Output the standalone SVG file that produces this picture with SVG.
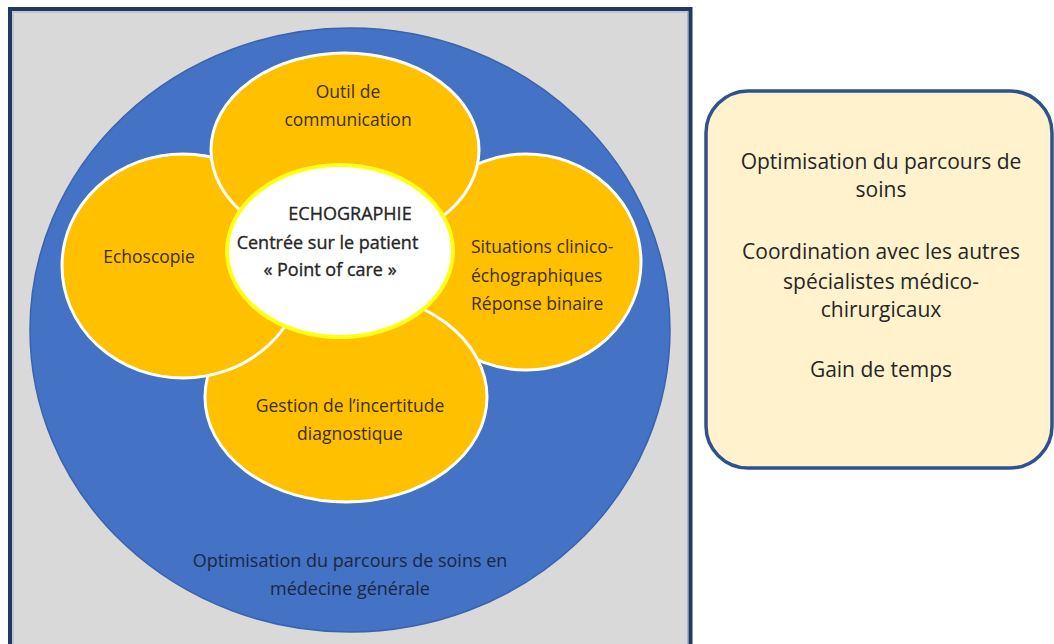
<svg xmlns="http://www.w3.org/2000/svg" width="1054" height="644" viewBox="0 0 1054 644">
<style>
.petal{fill:#ffc000;stroke:#ffffff;stroke-width:3}
.pt{font-family:"Open Sans","Liberation Sans",sans-serif;font-size:17.5px;fill:#3d2e00}
.ct{font-family:"Open Sans","Liberation Sans",sans-serif;font-size:18px;fill:#262626;text-anchor:middle;stroke:#262626;stroke-width:0.35}
.bt{font-family:"Open Sans","Liberation Sans",sans-serif;font-size:18px;fill:#1a2744;text-anchor:middle}
.rt{font-family:"Open Sans","Liberation Sans",sans-serif;font-size:21px;fill:#262626;text-anchor:middle}
.mid{text-anchor:middle}
</style>
<rect width="1054" height="644" fill="#ffffff"/>
<g id="frame">
<rect x="10" y="9" width="680.5" height="642" fill="#d9d9d9" stroke="#1f3864" stroke-width="4"/>
<rect x="13" y="12" width="674.5" height="636" fill="none" stroke="#aab4c8" stroke-width="1"/>
</g>
<g id="outer-circle">
<ellipse cx="350" cy="330" rx="320" ry="302" fill="#4472c4" stroke="#3a63ad" stroke-width="1.5"/>
<text class="bt" x="350" y="567">Optimisation du parcours de soins en</text>
<text class="bt" x="350" y="595">médecine générale</text>
</g>
<g id="petal-right">
<ellipse class="petal" cx="526" cy="262" rx="115" ry="108"/>
<text class="pt" x="471" y="253">Situations clinico-</text>
<text class="pt" x="471" y="281.5">échographiques</text>
<text class="pt" x="471" y="310">Réponse binaire</text>
</g>
<g id="petal-bottom">
<ellipse class="petal" cx="346" cy="397" rx="141" ry="105"/>
<text class="pt mid" x="350" y="412">Gestion de l’incertitude</text>
<text class="pt mid" x="350" y="440">diagnostique</text>
</g>
<g id="petal-left">
<ellipse class="petal" cx="183" cy="266" rx="121" ry="112"/>
<text class="pt mid" x="149" y="263">Echoscopie</text>
</g>
<g id="petal-top">
<ellipse class="petal" cx="345" cy="150" rx="134" ry="97"/>
<text class="pt mid" x="348" y="98">Outil de</text>
<text class="pt mid" x="348" y="126">communication</text>
</g>
<g id="center">
<ellipse cx="340" cy="251" rx="113" ry="86" fill="#ffffff" stroke="#ffff1a" stroke-width="4"/>
<text class="ct" x="350" y="219.5">ECHOGRAPHIE</text>
<text class="ct" x="327.5" y="249">Centrée sur le patient</text>
<text class="ct" x="330" y="276">« Point of care »</text>
</g>
<g id="side-box">
<rect x="706" y="91" width="346" height="377" rx="42" ry="42" fill="#fff2cc" stroke="#2f528f" stroke-width="3.5"/>
<text class="rt" x="881" y="169">Optimisation du parcours de</text>
<text class="rt" x="881" y="197">soins</text>
<text class="rt" x="881" y="259">Coordination avec les autres</text>
<text class="rt" x="881" y="289">spécialistes médico-</text>
<text class="rt" x="881" y="317">chirurgicaux</text>
<text class="rt" x="881" y="377">Gain de temps</text>
</g>
<g id="connectors"/>
</svg>
